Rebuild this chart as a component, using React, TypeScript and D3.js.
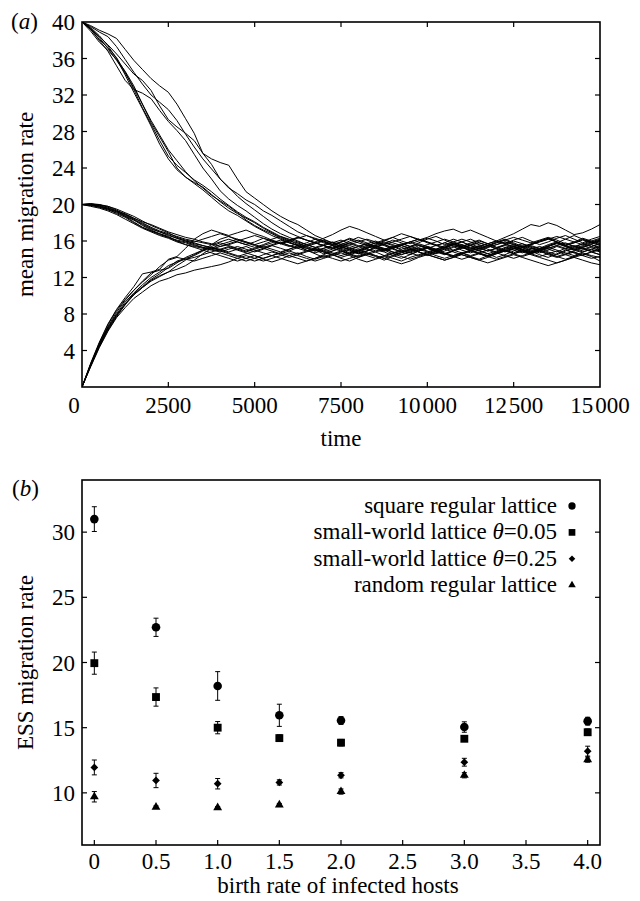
import React from 'react';
import * as d3 from 'd3';

// ---------- panel (a) data: mean migration rate trajectories, sampled every 250 time units ----------
const TIME_STEP = 250;
const TIME_MAX = 15000;

const RUNS_FROM_40: number[][] = [
  [40,39.2,38.1,37.2,36.1,34.5,32.6,30.6,28.8,27.0,25.3,24.3,23.5,22.7,22.1,21.4,20.6,19.9,19.2,18.6,18.1,17.5,17.0,16.5,16.1,15.6,15.3,15.0,14.6,14.9,15.3,15.1,14.7,14.9,15.4,15.6,15.2,14.8,15.0,15.5,15.3,14.9,14.6,15.0,15.4,15.7,15.3,14.9,15.2,15.6,15.4,15.0,14.7,15.1,15.5,15.8,15.4,15.0,15.3,15.6,15.2],
  [40,39.4,38.5,37.4,36.0,34.2,32.3,30.5,28.6,26.6,25.0,23.8,23.0,22.3,21.6,20.8,20.0,19.3,18.8,18.2,17.6,17.1,16.6,16.2,15.8,15.5,15.2,14.9,15.2,15.5,15.0,14.6,14.3,14.6,15.0,14.8,14.4,14.1,14.5,14.9,15.2,14.8,14.5,14.9,15.3,15.0,14.6,14.4,14.8,15.2,15.5,15.1,14.8,15.2,15.6,15.9,15.5,15.1,14.8,15.1,15.4],
  [40,39.0,37.8,36.9,35.9,34.6,33.0,31.0,29.0,27.4,25.8,24.0,23.0,22.4,21.9,21.1,20.3,19.6,19.0,18.5,18.0,17.4,16.9,16.4,16.0,15.8,15.4,15.7,16.0,15.6,15.9,16.3,16.0,15.6,15.3,15.7,16.1,15.8,15.4,15.8,16.2,16.5,16.1,15.7,15.4,15.8,16.1,15.7,15.3,15.6,16.0,15.7,15.3,15.0,15.4,15.8,16.2,16.6,16.2,15.8,16.1],
  [40,39.3,38.3,37.1,35.8,34.4,32.8,31.0,29.2,27.6,26.0,24.8,23.6,22.6,21.8,21.0,20.4,19.8,19.1,18.3,17.7,17.2,16.8,16.3,15.9,15.5,15.0,14.6,14.2,14.5,14.1,13.8,14.2,14.6,14.3,13.9,14.3,14.7,15.1,14.8,14.4,14.7,15.1,15.4,15.0,14.7,15.0,14.6,14.2,14.5,14.9,15.3,14.9,14.5,14.2,14.6,15.0,14.7,14.4,14.8,14.5],
  [40,39.2,38.0,36.8,35.2,33.6,32.6,32.2,31.6,30.3,29.1,28.1,27.0,25.5,24.0,22.8,21.5,20.6,19.9,19.3,18.6,17.9,17.3,16.8,16.4,16.0,15.6,15.9,16.3,16.7,17.2,17.6,17.3,16.9,16.5,16.1,15.8,15.5,15.9,16.2,15.9,15.5,15.2,15.6,15.9,15.5,15.1,15.4,15.8,16.1,15.7,15.3,15.6,16.0,16.3,15.9,15.5,15.8,16.2,15.9,15.6],
  [40,39.6,39.1,38.7,38.2,37.0,35.8,34.8,33.8,33.0,32.3,31.0,29.4,27.8,25.6,25.0,24.6,24.3,22.8,21.4,20.7,20.0,19.3,18.7,18.2,17.8,17.2,16.6,16.2,15.8,15.4,15.0,14.6,14.9,15.3,15.0,14.6,14.9,15.3,15.6,15.2,14.9,15.3,15.7,15.3,14.9,15.2,15.5,15.1,14.8,15.1,15.4,15.0,14.7,15.0,15.4,15.1,14.7,15.0,15.3,14.9],
  [40,39.3,38.4,37.5,36.5,35.4,34.3,33.6,32.5,30.8,29.3,28.5,27.8,27.0,25.6,24.4,22.8,21.8,21.2,20.5,20.0,19.3,18.8,18.2,17.6,17.0,16.6,16.2,15.8,15.5,15.1,14.7,15.0,15.4,15.8,15.5,15.1,14.8,14.5,14.9,15.3,15.0,14.6,14.9,15.2,15.6,16.0,15.7,15.3,15.0,14.7,15.1,15.5,15.2,14.8,14.5,14.9,15.3,15.7,15.4,15.1],
  [40,39.5,38.9,38.4,37.3,35.9,34.5,33.2,32.0,31.2,30.4,29.2,27.7,26.3,25.0,23.9,22.8,21.9,20.9,20.1,19.4,18.7,18.0,17.4,16.9,16.5,16.1,15.8,15.5,15.2,15.6,16.0,16.4,16.1,15.7,16.0,16.4,16.8,16.5,16.1,16.4,16.8,17.1,17.3,16.9,17.2,16.8,16.4,16.0,15.7,16.1,16.4,16.0,15.6,15.9,16.3,16.6,16.2,15.8,16.2,16.5],
];

const RUNS_FROM_20: number[][] = [
  [20,20.1,19.9,19.8,19.4,18.9,18.4,17.8,17.3,17.0,16.7,16.3,16.0,15.8,15.5,15.3,15.1,14.8,15.1,15.4,15.0,14.7,14.4,14.7,15.1,15.4,15.0,14.7,15.0,15.3,15.6,15.2,14.9,15.2,15.5,15.1,14.8,14.5,14.9,15.2,14.9,14.6,14.9,15.3,15.6,15.2,14.9,14.6,14.9,15.3,15.0,14.7,15.1,15.4,15.1,14.8,15.2,15.5,15.2,14.8,15.0],
  [20,19.9,19.8,19.5,19.0,18.6,18.0,17.5,17.1,16.8,16.5,16.0,15.6,15.3,15.0,14.7,14.4,14.1,13.8,14.1,14.4,14.0,13.7,14.0,14.4,14.7,14.3,14.0,14.3,14.6,14.9,14.5,14.2,14.5,14.8,14.4,14.1,13.8,14.2,14.5,14.8,14.4,14.1,14.4,14.7,14.3,14.0,14.4,14.7,15.0,14.6,14.3,14.6,14.9,14.5,14.2,14.5,14.8,14.4,14.1,14.3],
  [20,20.0,20.0,19.7,19.3,19.0,18.5,18.0,17.5,17.1,16.8,16.5,16.2,16.0,15.8,15.6,15.9,16.2,15.9,15.6,15.9,16.3,16.0,15.7,16.0,16.4,16.1,15.8,15.5,15.8,16.1,15.7,15.4,15.7,16.0,15.6,15.3,15.6,15.9,16.2,15.8,15.5,15.8,16.2,15.9,15.5,15.2,15.5,15.9,16.2,15.8,15.4,15.7,16.0,16.3,15.9,15.6,15.9,16.3,16.0,15.7],
  [20,19.8,19.6,19.3,18.9,18.4,17.9,17.4,17.0,16.6,16.3,15.9,15.6,15.4,15.2,15.0,14.8,15.1,15.4,15.1,14.8,15.1,15.5,15.2,14.9,14.6,14.9,15.2,14.8,14.5,14.2,14.5,14.8,15.1,14.8,15.1,15.4,15.0,14.7,15.0,15.3,14.9,14.6,14.3,14.6,14.9,15.2,14.9,15.2,15.5,15.2,14.9,14.6,14.9,15.2,15.5,15.8,15.4,15.1,15.4,15.7],
  [20,20.1,20.0,19.8,19.5,19.1,18.7,18.2,17.7,17.3,16.9,16.4,16.1,15.9,16.2,16.5,16.8,16.5,16.2,15.9,15.6,15.3,15.6,15.9,15.5,15.2,15.5,15.8,16.1,15.8,15.4,15.1,15.4,15.7,15.3,15.0,15.3,15.6,15.9,15.5,15.2,14.9,15.2,15.6,15.3,15.0,15.4,15.7,16.0,16.4,16.8,17.3,17.8,17.6,18.0,17.7,17.2,16.7,16.9,17.3,17.8],
  [20,19.9,19.7,19.4,19.1,18.7,18.3,17.9,17.4,17.0,16.6,16.3,16.0,15.7,15.5,15.2,15.0,15.3,15.0,14.7,14.4,14.1,14.4,14.7,14.4,14.1,13.8,14.1,14.5,14.9,15.2,14.9,14.6,14.9,15.2,14.9,15.2,15.5,15.2,14.8,14.5,14.2,13.9,14.2,14.6,14.9,14.6,14.3,14.6,14.9,15.2,14.8,14.5,14.2,13.9,13.6,13.9,14.3,14.6,14.3,13.8],
  [20,20.0,19.8,19.6,19.2,18.9,18.5,18.1,17.8,17.4,17.0,16.7,16.4,16.2,15.9,15.7,15.4,15.6,15.9,15.6,15.3,15.6,16.0,15.7,15.4,15.7,15.4,15.1,14.8,15.1,15.4,15.8,15.5,15.2,15.5,15.8,15.5,15.1,15.4,15.7,15.4,15.1,15.5,15.8,15.5,15.2,15.5,15.1,14.8,15.1,15.4,15.7,15.4,15.1,15.4,15.8,15.5,15.2,15.5,15.8,15.5],
  [20,19.9,19.9,19.6,19.3,18.7,18.1,17.5,17.1,16.7,16.4,16.0,15.8,15.5,15.3,15.1,14.9,14.6,14.3,14.6,14.9,15.2,14.9,14.6,14.9,15.3,15.6,15.3,15.0,14.7,14.4,14.7,15.0,14.7,14.4,14.1,14.4,14.8,15.1,14.8,14.5,14.8,15.1,14.8,14.5,14.2,13.9,14.2,14.6,14.9,14.6,14.9,15.2,14.9,14.6,14.3,14.6,14.9,15.2,14.9,15.1],
  [20,20.0,19.7,19.5,19.2,18.8,18.3,17.7,17.2,16.8,16.4,16.1,15.9,15.6,15.3,15.1,15.4,15.7,16.0,16.3,16.6,16.3,16.0,15.7,16.0,16.3,16.6,16.3,16.0,15.6,15.3,15.6,15.9,16.2,15.9,15.6,15.9,16.2,16.5,16.2,15.9,15.6,15.3,15.6,15.9,16.2,15.8,15.5,15.8,16.1,16.4,16.1,15.8,16.1,16.4,16.1,15.7,15.4,15.7,16.0,16.3],
];

const RUNS_FROM_0: number[][] = [
  [0,2.6,4.9,6.9,8.5,9.8,11.0,12.4,12.6,12.9,14.0,14.3,15.2,16.2,16.8,17.2,16.9,16.6,16.9,17.2,16.8,16.5,16.1,15.8,16.1,16.4,16.1,15.8,15.5,15.2,15.5,15.8,16.1,15.8,15.4,15.1,15.4,15.7,15.4,15.1,14.8,15.1,15.4,15.7,15.4,15.1,15.4,15.7,16.0,15.7,15.4,15.1,14.8,15.1,15.4,15.7,15.4,15.1,15.4,15.7,15.9],
  [0,2.5,4.7,6.6,8.2,9.5,10.6,11.6,12.5,12.8,13.0,13.6,14.2,14.6,15.0,15.6,16.2,16.5,16.1,15.8,15.5,15.2,15.5,15.8,15.5,15.2,14.9,15.2,15.5,15.2,14.9,14.6,14.9,15.2,15.5,15.2,14.8,14.5,14.8,15.1,15.4,15.1,14.7,14.4,14.7,15.0,14.7,14.4,14.7,15.0,15.3,15.0,14.7,15.0,15.3,15.0,14.7,14.4,14.8,15.1,14.8],
  [0,2.3,4.5,6.4,7.9,9.1,10.2,11.0,11.8,12.4,13.1,13.8,14.1,14.4,14.9,15.4,15.8,15.5,15.2,14.9,15.2,15.5,15.8,16.1,15.8,15.5,15.8,16.2,15.9,15.6,15.9,16.2,15.8,15.5,15.8,16.1,16.4,16.0,15.7,16.0,16.3,16.0,15.6,15.9,16.2,15.9,15.6,15.3,15.6,15.9,15.6,15.3,15.6,15.9,16.2,15.9,15.5,15.8,16.1,15.8,16.0],
  [0,2.2,4.3,6.1,7.6,8.7,9.7,10.4,11.1,11.6,11.9,12.3,12.5,12.8,13.0,13.2,13.4,13.7,14.1,14.4,14.1,13.8,14.1,14.4,14.7,14.4,14.1,13.8,14.1,14.4,14.7,14.4,14.0,13.7,14.0,14.3,14.6,14.3,14.0,14.3,14.6,14.9,14.6,14.3,14.0,14.3,14.6,14.3,14.0,14.3,14.6,14.9,14.6,14.3,14.6,14.9,14.5,14.2,14.5,14.8,14.5],
  [0,2.4,4.6,6.5,8.0,9.3,10.3,11.2,12.0,12.6,13.3,13.7,14.0,14.2,14.5,14.8,15.1,15.4,15.1,14.8,15.1,15.4,15.1,14.8,15.1,15.5,15.2,14.9,15.2,15.5,15.8,15.5,15.2,15.5,15.2,14.9,15.2,15.5,15.2,14.9,15.2,15.5,15.8,15.5,15.2,15.5,15.8,15.5,15.2,14.9,15.2,15.5,15.2,14.9,15.2,15.5,15.2,15.0,15.3,15.6,15.3],
  [0,2.5,4.8,6.8,8.4,9.6,10.6,11.5,12.3,13.2,13.9,14.2,14.0,13.8,14.1,14.4,14.7,14.4,14.1,13.8,14.1,14.5,14.8,14.5,14.2,14.5,14.8,15.1,14.8,14.5,14.8,15.1,14.8,14.4,14.1,14.4,14.7,15.0,14.7,14.4,14.7,15.0,15.3,15.0,14.7,14.4,14.7,15.0,14.7,14.4,14.1,14.4,14.7,15.0,14.7,14.3,14.0,14.3,14.7,14.4,14.2],
  [0,2.3,4.4,6.2,7.7,9.0,10.1,10.9,11.7,12.2,12.6,12.9,13.3,13.9,14.6,15.2,15.6,15.9,16.2,15.9,15.6,15.9,16.2,16.5,16.2,15.9,15.6,15.3,15.6,15.9,15.6,15.3,15.0,15.3,15.6,15.9,15.6,15.3,15.0,15.3,15.6,15.9,16.2,15.9,15.6,15.3,15.0,15.3,15.6,15.9,15.6,15.3,15.6,15.9,16.2,16.5,16.2,15.9,15.6,15.9,16.2],
  [0,2.4,4.5,6.3,7.8,9.1,10.1,10.9,11.6,12.1,12.6,13.3,13.9,14.5,15.0,15.3,15.0,14.7,14.4,14.1,13.8,14.1,14.4,14.1,13.8,13.5,13.8,14.1,14.4,14.1,13.8,14.1,14.4,14.7,14.4,14.1,13.8,13.5,13.8,14.2,14.5,14.2,13.9,14.2,14.5,14.2,13.9,13.6,13.9,14.2,14.5,14.2,13.9,13.6,13.3,13.6,13.9,14.2,13.9,13.6,13.4],
];

const A_X_TICKS = [0, 2500, 5000, 7500, 10000, 12500, 15000];
const A_X_LABELS = ['0', '2500', '5000', '7500', '10\u200A000', '12\u200A500', '15\u200A000'];
const A_Y_TICKS = [4, 8, 12, 16, 20, 24, 28, 32, 36, 40];

// ---------- panel (b) data ----------
const BIRTH_RATES = [0, 0.5, 1.0, 1.5, 2.0, 3.0, 4.0];
const SQUARE_LATTICE = [31.0, 22.7, 18.2, 15.95, 15.55, 15.05, 15.5];
const SQUARE_LATTICE_ERR = [0.95, 0.7, 1.1, 0.85, 0.3, 0.4, 0.3];
const SW_005 = [19.95, 17.35, 15.0, 14.2, 13.85, 14.15, 14.65];
const SW_005_ERR = [0.85, 0.7, 0.47, 0.25, 0.25, 0.12, 0.25];
const SW_025 = [11.95, 10.95, 10.7, 10.8, 11.35, 12.35, 13.2];
const SW_025_ERR = [0.57, 0.55, 0.4, 0.2, 0.2, 0.3, 0.38];
const RANDOM_LATTICE = [9.7, 8.9, 8.87, 9.07, 10.1, 11.35, 12.55];
const RANDOM_LATTICE_ERR = [0.4, 0.1, 0.08, 0.12, 0.2, 0.2, 0.2];

const B_X_TICKS = [0, 0.5, 1.0, 1.5, 2.0, 2.5, 3.0, 3.5, 4.0];
const B_X_LABELS = ['0', '0.5', '1.0', '1.5', '2.0', '2.5', '3.0', '3.5', '4.0'];
const B_Y_TICKS = [10, 15, 20, 25, 30];

const FONT = "'Liberation Serif', 'Times New Roman', serif";
const FS = 23;

const W = 640, H = 901;
const PA = { left: 82, right: 600, top: 22, bottom: 387 };
const PB = { left: 82, right: 600, top: 480, bottom: 845 };
const TICK = 5;

export default function App() {
  const xA = d3.scaleLinear().domain([0, TIME_MAX]).range([PA.left, PA.right]);
  const yA = d3.scaleLinear().domain([0, 40]).range([PA.bottom, PA.top]);
  const xB = d3.scaleLinear().domain([-0.1, 4.1]).range([PB.left, PB.right]);
  const yB = d3.scaleLinear().domain([6, 34]).range([PB.bottom, PB.top]);

  const line = d3.line<number>().x((_, i) => xA(i * TIME_STEP)).y((d) => yA(d));
  const allRuns = [...RUNS_FROM_40, ...RUNS_FROM_20, ...RUNS_FROM_0];

  const circle = d3.symbol().type(d3.symbolCircle).size(58)() as string;
  const square = d3.symbol().type(d3.symbolSquare).size(62)() as string;
  const diamond = d3.symbol().type(d3.symbolSquare).size(30)() as string;
  const triangle = d3.symbol().type(d3.symbolTriangle).size(34)() as string;

  const series = [
    { name: 'square regular lattice', theta: null, y: SQUARE_LATTICE, e: SQUARE_LATTICE_ERR, path: circle, rot: 0 },
    { name: 'small-world lattice ', theta: '0.05', y: SW_005, e: SW_005_ERR, path: square, rot: 0 },
    { name: 'small-world lattice ', theta: '0.25', y: SW_025, e: SW_025_ERR, path: diamond, rot: 45 },
    { name: 'random regular lattice', theta: null, y: RANDOM_LATTICE, e: RANDOM_LATTICE_ERR, path: triangle, rot: 0 },
  ];

  return (
    <svg width={W} height={H} viewBox={`0 0 ${W} ${H}`}
      style={{ position: 'absolute', left: 0, top: 0, background: '#fff' }}
      fontFamily={FONT} fontSize={FS}>
      <rect x={0} y={0} width={W} height={H} fill="#fff" />
      <defs>
        <clipPath id="clipA">
          <rect x={PA.left} y={PA.top} width={PA.right - PA.left} height={PA.bottom - PA.top} />
        </clipPath>
      </defs>

      {/* ---------------- panel (a) ---------------- */}
      <g clipPath="url(#clipA)">
        {allRuns.map((r, i) => (
          <path key={i} d={line(r) as string} fill="none" stroke="#000" strokeWidth={1} strokeLinejoin="round" />
        ))}
      </g>
      <rect x={PA.left} y={PA.top} width={PA.right - PA.left} height={PA.bottom - PA.top}
        fill="none" stroke="#000" strokeWidth={1.6} />
      {A_X_TICKS.map((t, i) => (
        <g key={'ax' + i}>
          {i > 0 && i < A_X_TICKS.length - 1 && (
            <>
              <line x1={xA(t)} x2={xA(t)} y1={PA.bottom} y2={PA.bottom - TICK} stroke="#000" strokeWidth={1.2} />
              <line x1={xA(t)} x2={xA(t)} y1={PA.top} y2={PA.top + TICK} stroke="#000" strokeWidth={1.2} />
            </>
          )}
          <text x={xA(t) + (t === 0 ? -8 : 0)} y={PA.bottom + 26} textAnchor="middle">{A_X_LABELS[i]}</text>
        </g>
      ))}
      {A_Y_TICKS.map((t, i) => (
        <g key={'ay' + i}>
          {t < 40 && (
            <>
              <line x1={PA.left} x2={PA.left + TICK} y1={yA(t)} y2={yA(t)} stroke="#000" strokeWidth={1.2} />
              <line x1={PA.right} x2={PA.right - TICK} y1={yA(t)} y2={yA(t)} stroke="#000" strokeWidth={1.2} />
            </>
          )}
          <text x={75} y={yA(t) + 8} textAnchor="end">{t}</text>
        </g>
      ))}
      <text x={(PA.left + PA.right) / 2} y={446} textAnchor="middle">time</text>
      <text transform={`translate(33, ${(PA.top + PA.bottom) / 2}) rotate(-90)`} textAnchor="middle">mean migration rate</text>
      <text x={11} y={29}>(<tspan fontStyle="italic">a</tspan>)</text>

      {/* ---------------- panel (b) ---------------- */}
      <rect x={PB.left} y={PB.top} width={PB.right - PB.left} height={PB.bottom - PB.top}
        fill="none" stroke="#000" strokeWidth={1.6} />
      {B_X_TICKS.map((t, i) => (
        <g key={'bx' + i}>
          <line x1={xB(t)} x2={xB(t)} y1={PB.bottom} y2={PB.bottom - TICK} stroke="#000" strokeWidth={1.2} />
          <text x={xB(t)} y={PB.bottom + 24} textAnchor="middle">{B_X_LABELS[i]}</text>
        </g>
      ))}
      {B_Y_TICKS.map((t, i) => (
        <g key={'by' + i}>
          <line x1={PB.left} x2={PB.left + TICK} y1={yB(t)} y2={yB(t)} stroke="#000" strokeWidth={1.2} />
          <line x1={PB.right} x2={PB.right - TICK} y1={yB(t)} y2={yB(t)} stroke="#000" strokeWidth={1.2} />
          <text x={75} y={yB(t) + 8} textAnchor="end">{t}</text>
        </g>
      ))}
      <text x={338} y={893} textAnchor="middle">birth rate of infected hosts</text>
      <text transform={`translate(33, ${(PB.top + PB.bottom) / 2}) rotate(-90)`} textAnchor="middle">ESS migration rate</text>
      <text x={12} y={496}>(<tspan fontStyle="italic">b</tspan>)</text>

      {series.map((s, si) => (
        <g key={'s' + si}>
          {BIRTH_RATES.map((b, i) => {
            const cx = xB(b);
            const y0 = yB(s.y[i] - s.e[i]);
            const y1 = yB(s.y[i] + s.e[i]);
            return (
              <g key={i}>
                <line x1={cx} x2={cx} y1={y0} y2={y1} stroke="#000" strokeWidth={1} />
                <line x1={cx - 2.5} x2={cx + 2.5} y1={y0} y2={y0} stroke="#000" strokeWidth={1} />
                <line x1={cx - 2.5} x2={cx + 2.5} y1={y1} y2={y1} stroke="#000" strokeWidth={1} />
                <path d={s.path} transform={`translate(${cx},${yB(s.y[i])}) rotate(${s.rot})`} fill="#000" />
              </g>
            );
          })}
          <text x={557} y={513 + si * 26.4} textAnchor="end">
            {s.name}
            {s.theta && (<><tspan fontStyle="italic">θ</tspan>={s.theta}</>)}
          </text>
          <path d={s.path} transform={`translate(572,${506 + si * 26.4}) rotate(${s.rot}) scale(0.85)`} fill="#000" />
        </g>
      ))}
    </svg>
  );
}
